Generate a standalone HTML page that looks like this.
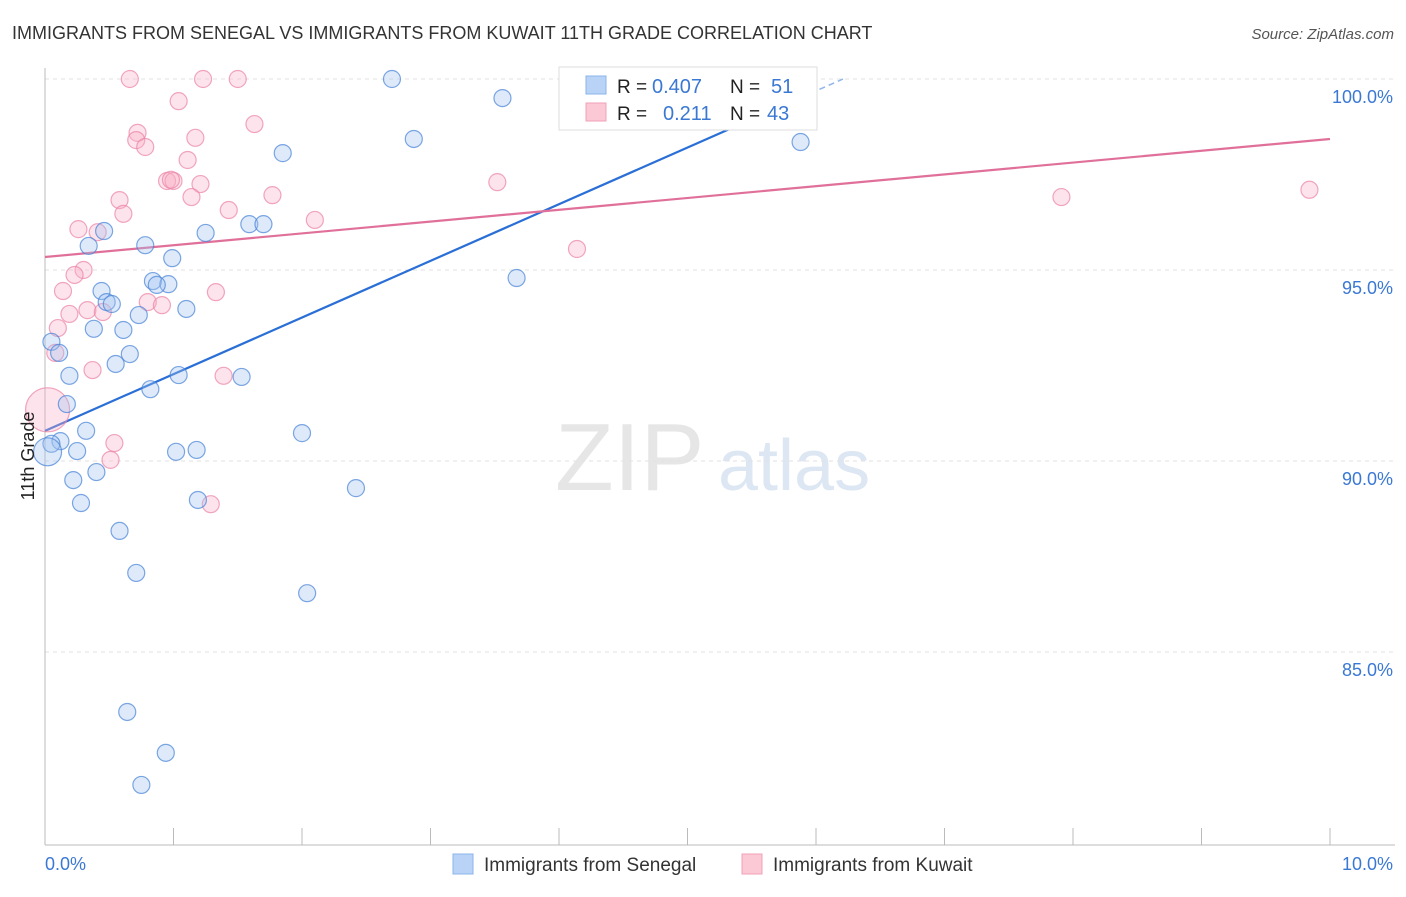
<!DOCTYPE html>
<html><head><meta charset="utf-8"><style>
body{margin:0;background:#fff;font-family:"Liberation Sans",sans-serif;}
svg text{font-family:"Liberation Sans",sans-serif;}
</style></head><body>
<svg id="chart" width="1406" height="892" viewBox="0 0 1406 892" xmlns="http://www.w3.org/2000/svg">
<text x="12" y="39" font-size="18" fill="#333">IMMIGRANTS FROM SENEGAL VS IMMIGRANTS FROM KUWAIT 11TH GRADE CORRELATION CHART</text>
<text x="1394" y="39" font-size="15" fill="#555" text-anchor="end" font-style="italic">Source: ZipAtlas.com</text>
<g>
<text x="555" y="490" font-size="96" fill="#e6e6e6" font-family="Liberation Serif">ZIP</text>
<text x="718" y="490" font-size="72" fill="#dde7f3">atlas</text>
</g>
<g id="grid"></g>
<g id="axes"></g>
<g id="trend"></g>
<g id="points"></g>
<text transform="translate(34,456) rotate(-90)" font-size="18" fill="#222" text-anchor="middle">11th Grade</text>
<g>
<rect x="559" y="67" width="258" height="63" fill="#fff" stroke="#ddd"/>
<rect x="586" y="76" width="20" height="18" fill="#b8d3f5" stroke="#8ab4ea"/>
<rect x="586" y="103" width="20" height="18" fill="#fbc8d6" stroke="#f1a0b8"/>
<text x="617" y="93" font-size="19" fill="#222">R =</text>
<text x="652" y="93" font-size="20" fill="#3a78d4">0.407</text>
<text x="730" y="93" font-size="19" fill="#222">N =</text>
<text x="771" y="93" font-size="20" fill="#3a78d4">51</text>
<text x="617" y="120" font-size="19" fill="#222">R =</text>
<text x="663" y="120" font-size="20" fill="#3a78d4">0.211</text>
<text x="730" y="120" font-size="19" fill="#222">N =</text>
<text x="767" y="120" font-size="20" fill="#3a78d4">43</text>
</g>
<g>
<rect x="453" y="854" width="20" height="20" fill="#b8d3f5" stroke="#8ab4ea"/>
<text x="484" y="871" font-size="19" fill="#333">Immigrants from Senegal</text>
<rect x="742" y="854" width="20" height="20" fill="#fbc8d6" stroke="#f1a0b8"/>
<text x="773" y="871" font-size="19" fill="#333">Immigrants from Kuwait</text>
</g>
</svg>
<script>
const blueX=[2.70,3.56,2.87,5.88,1.85,1.59,1.70,1.25,0.46,0.34,0.78,0.99,3.67,0.84,0.96,0.87,0.44,0.48,0.52,1.10,0.73,0.38,0.61,0.05,0.11,0.66,0.55,0.19,1.04,1.53,0.82,0.17,0.32,2.00,0.12,0.05,0.25,0.02,1.02,1.18,0.40,0.22,2.42,0.28,1.19,0.58,0.71,2.04,0.64,0.94,0.75];
const blueY=[100,99.50,98.43,98.35,98.06,96.20,96.20,95.97,96.02,95.63,95.65,95.31,94.79,94.71,94.63,94.61,94.45,94.16,94.11,93.98,93.82,93.46,93.43,93.12,92.83,92.80,92.54,92.23,92.25,92.20,91.88,91.49,90.79,90.73,90.52,90.45,90.26,90.24,90.24,90.29,89.71,89.50,89.29,88.90,88.98,88.17,87.07,86.54,83.43,82.36,81.52];
const pinkX=[0.66,1.23,1.50,1.04,1.63,0.72,0.71,1.17,0.78,1.11,0.95,1.00,0.98,1.21,3.52,1.77,1.14,0.58,7.91,9.84,0.61,1.43,2.10,0.26,0.41,4.14,0.30,0.23,0.14,1.33,0.80,0.91,0.33,0.45,0.19,0.10,0.08,0.37,1.39,0.02,0.54,0.51,1.29];
const pinkY=[100,100,100,99.42,98.82,98.59,98.40,98.46,98.22,97.88,97.33,97.33,97.36,97.25,97.30,96.96,96.91,96.83,96.91,97.10,96.47,96.57,96.31,96.07,95.99,95.55,95.00,94.87,94.45,94.42,94.16,94.08,93.95,93.90,93.85,93.48,92.83,92.38,92.23,91.34,90.47,90.03,88.87];
const yTicks=[100,95,90,85];
const yTickLabels=["100.0%","95.0%","90.0%","85.0%"];
const blueTrend=[[0,90.79],[6.21,100]];
const pinkTrend=[[0,95.34],[10,98.43]];
const NS="http://www.w3.org/2000/svg";
const sx=v=>45+v*128.5, sy=v=>79+(100-v)*38.2;
function mk(parent,tag,attrs){const e=document.createElementNS(NS,tag);for(const k in attrs)e.setAttribute(k,attrs[k]);document.getElementById(parent).appendChild(e);return e;}
yTicks.forEach((t,i)=>{
 const l=mk('grid','line',{x1:45,x2:1395,y1:sy(t),y2:sy(t),stroke:'#e2e2e2','stroke-dasharray':'4,4'});
 
 
 const tx=mk('grid','text',{x:1393,y:sy(t)+24,'font-size':18,fill:'#3a78d4','text-anchor':'end'});
 tx.textContent=yTickLabels[i];
 
 
});
const ax=mk('axes','line',{x1:45,x2:45,y1:68,y2:845,stroke:'#bbb'});


const bx=mk('axes','line',{x1:45,x2:1395,y1:845,y2:845,stroke:'#bbb'});


for(let i=0;i<=10;i++){
 const t=mk('axes','line',{x1:sx(i),x2:sx(i),y1:828,y2:845,stroke:'#bbb'});
 
 
}
const xl0=mk('axes','text',{x:45,y:870,'font-size':18,fill:'#3a78d4'});xl0.textContent='0.0%';


const xl1=mk('axes','text',{x:1393,y:870,'font-size':18,fill:'#3a78d4','text-anchor':'end'});xl1.textContent='10.0%';


function addPts(X,Y,fill,stroke,name){X.forEach((x,i)=>{
 let r=8.5; if(x<0.04){r=name==='pink-point'?22:14;}
 const c=mk('points','circle',{cx:sx(x),cy:sy(Y[i]),r:r,fill:fill,stroke:stroke,'stroke-width':1.2});
 
 
});}
addPts(pinkX,pinkY,'rgba(248,176,198,0.35)','rgba(235,130,165,0.7)','pink-point');
addPts(blueX,blueY,'rgba(160,196,240,0.35)','rgba(70,130,215,0.7)','blue-point');
// trend lines
const bEnd=4.5*128.5+45;
const bMid=[5.6,blueTrend[0][1]+(blueTrend[1][1]-blueTrend[0][1])*5.6/blueTrend[1][0]];
const bl=mk('trend','line',{x1:sx(blueTrend[0][0]),y1:sy(blueTrend[0][1]),x2:sx(bMid[0]),y2:sy(bMid[1]),stroke:'#2a6fd6','stroke-width':2.2});


const bd=mk('trend','line',{x1:sx(bMid[0]),y1:sy(bMid[1]),x2:sx(blueTrend[1][0]),y2:sy(blueTrend[1][1]),stroke:'#8fb5ea','stroke-width':1.5,'stroke-dasharray':'6,4'});


const pl=mk('trend','line',{x1:sx(pinkTrend[0][0]),y1:sy(pinkTrend[0][1]),x2:sx(pinkTrend[1][0]),y2:sy(pinkTrend[1][1]),stroke:'#e0709a','stroke-width':2.2});


</script>
</body></html>
